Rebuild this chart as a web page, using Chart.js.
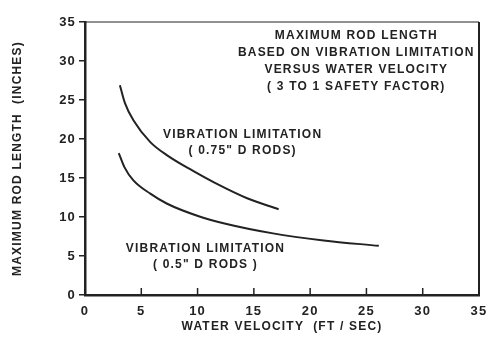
<!DOCTYPE html>
<html>
<head>
<meta charset="utf-8">
<script src="https://cdn.jsdelivr.net/npm/chart.js@4"></script>
<style>
  html, body { margin: 0; background: #fff; }
  #wrap { width: 500px; height: 346px; }
</style>
</head>
<body>
<div id="wrap"><canvas id="rodChart"></canvas></div>
<script>
// values
const rod075Velocity = [3.1, 3.55, 4.3, 5.8, 7.3, 9.6, 11.5, 14.4, 17.2];
const rod075Length   = [26.9, 24.6, 22.4, 19.6, 17.9, 15.9, 14.4, 12.4, 11.0];
const rod05Velocity  = [3.0, 3.5, 4.3, 5.8, 7.3, 10.1, 12.3, 16.7, 21.2, 26.1];
const rod05Length    = [18.2, 16.4, 14.7, 13.0, 11.7, 10.1, 9.2, 7.9, 7.0, 6.3];
const xTicks = [0, 5, 10, 15, 20, 25, 30, 35];
const yTicks = [0, 5, 10, 15, 20, 25, 30, 35];

const ink = '#222';
const fontFamily = '"Liberation Sans", Arial, sans-serif';

const toPoints = (xs, ys) => xs.map((v, i) => ({ x: v, y: ys[i] }));

// text blocks placed in data units
const notes = [
  { x: 24.1, y: 33.3, step: 17.3, lines: ['MAXIMUM ROD LENGTH', 'BASED ON VIBRATION LIMITATION', 'VERSUS WATER VELOCITY', '( 3 TO 1 SAFETY FACTOR)'] },
  { x: 14.0, y: 20.6, step: 16.5, lines: ['VIBRATION LIMITATION', '( 0.75" D RODS)'] },
  { x: 10.7, y: 6.0,  step: 16.5, lines: ['VIBRATION LIMITATION', '( 0.5" D RODS )'] }
];

const frameAndNotes = {
  id: 'frameAndNotes',
  beforeDraw(chart) {
    // the old typeset lettering is widely spaced
    chart.ctx.letterSpacing = '1.2px';
  },
  afterDraw(chart) {
    const { ctx, chartArea: a, scales: { x, y } } = chart;
    ctx.save();
    ctx.strokeStyle = ink;

    // top and right frame
    ctx.lineWidth = 1;
    ctx.beginPath();
    ctx.moveTo(a.left, a.top);
    ctx.lineTo(a.right, a.top);
    ctx.stroke();
    ctx.lineWidth = 2;
    ctx.beginPath();
    ctx.moveTo(a.right, a.top);
    ctx.lineTo(a.right, a.bottom);
    ctx.stroke();

    // x ticks point inward
    ctx.lineWidth = 1.5;
    xTicks.forEach(v => {
      const px = x.getPixelForValue(v);
      ctx.beginPath();
      ctx.moveTo(px, a.bottom);
      ctx.lineTo(px, a.bottom - 7);
      ctx.stroke();
    });

    // annotations
    ctx.fillStyle = ink;
    ctx.font = 'bold 12px ' + fontFamily;
    ctx.letterSpacing = '1.2px';
    ctx.textAlign = 'center';
    ctx.textBaseline = 'middle';
    notes.forEach(n => {
      const cx = x.getPixelForValue(n.x);
      const cy = y.getPixelForValue(n.y);
      n.lines.forEach((t, i) => ctx.fillText(t, cx, cy + i * n.step));
    });
    ctx.restore();
  }
};

const curve = {
  showLine: true,
  borderColor: ink,
  borderWidth: 2,
  cubicInterpolationMode: 'monotone',
  pointRadius: 0
};

new Chart(document.getElementById('rodChart'), {
  type: 'scatter',
  data: {
    datasets: [
      { ...curve, label: '0.75" D rods', data: toPoints(rod075Velocity, rod075Length) },
      { ...curve, label: '0.5" D rods', data: toPoints(rod05Velocity, rod05Length) }
    ]
  },
  options: {
    responsive: true,
    maintainAspectRatio: false,
    animation: false,
    layout: { padding: { top: 22, right: 21, left: 0, bottom: 0 } },
    plugins: {
      legend: { display: false },
      tooltip: { enabled: false }
    },
    scales: {
      x: {
        type: 'linear',
        min: 0,
        max: 35,
        afterBuildTicks: s => { s.ticks = xTicks.map(v => ({ value: v })); },
        afterFit: s => { s.height = 51; },
        grid: { drawOnChartArea: false, drawTicks: false },
        border: { color: ink, width: 2.5 },
        ticks: { color: ink, padding: 9, font: { family: fontFamily, size: 13, weight: 'bold' } },
        title: {
          display: true,
          text: 'WATER VELOCITY  (FT / SEC)',
          color: ink,
          padding: { bottom: 12 },
          font: { family: fontFamily, size: 12, weight: 'bold' }
        }
      },
      y: {
        type: 'linear',
        min: 0,
        max: 35,
        afterBuildTicks: s => { s.ticks = yTicks.map(v => ({ value: v })); },
        afterFit: s => { s.width = 85; },
        grid: { drawOnChartArea: false, drawTicks: true, tickLength: 6, color: ink, lineWidth: 1.5 },
        border: { color: ink, width: 2.5 },
        ticks: { color: ink, padding: 3, font: { family: fontFamily, size: 13, weight: 'bold' } },
        title: {
          display: true,
          text: 'MAXIMUM ROD LENGTH  (INCHES)',
          color: ink,
          padding: { top: 10 },
          font: { family: fontFamily, size: 12, weight: 'bold' }
        }
      }
    }
  },
  plugins: [frameAndNotes]
});
</script>
</body>
</html>
